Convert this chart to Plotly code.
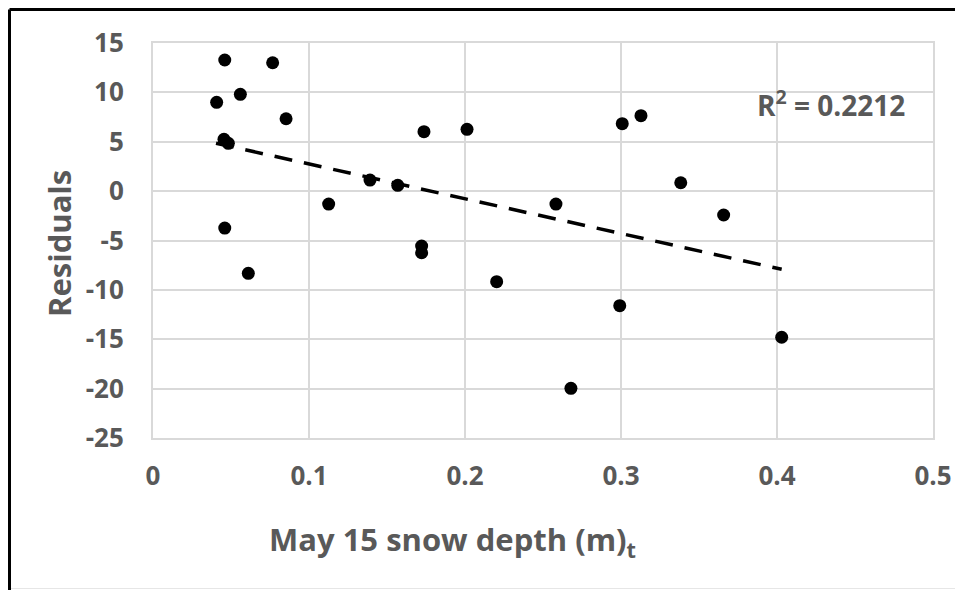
import plotly.graph_objects as go

# Data
snow_depth = [0.0408, 0.0460, 0.0767, 0.0560, 0.0853, 0.0455, 0.0483, 0.0460, 0.0611,
              0.1126, 0.1391, 0.1569, 0.1737, 0.1722, 0.1722, 0.2013, 0.2203, 0.2583,
              0.2679, 0.2992, 0.3008, 0.3128, 0.3383, 0.3658, 0.4030]
residuals = [8.99, 13.28, 13.0, 9.80, 7.33, 5.25, 4.84, -3.74, -8.32,
             -1.31, 1.12, 0.59, 6.02, -5.56, -6.24, 6.26, -9.17, -1.31,
             -19.97, -11.6, 6.83, 7.64, 0.85, -2.42, -14.8]

trend_x = [0.0404, 0.403]
trend_y = [4.85, -7.92]

r2_label = "R<sup>2</sup> = 0.2212"
x_title = "May 15 snow depth (m)<sub>t</sub>"
y_title = "Residuals"

x_ticks = [0, 0.1, 0.2, 0.3, 0.4, 0.5]
x_ticklabels = ["0", "0.1", "0.2", "0.3", "0.4", "0.5"]
y_ticks = [15, 10, 5, 0, -5, -10, -15, -20, -25]
y_ticklabels = ["15", "10", "5", "0", "-5", "-10", "-15", "-20", "-25"]

FONT = "Open Sans"
TXT = "#595959"
GRID = "#d9d9d9"

# page is shown with an 8px body margin; figure sized so it fits the 963x590 window
W, H = 955, 582
OFF = 8


def px(xp):  # page x -> paper x
    return (xp - 153) / 780


def py(yp):  # page y -> paper y
    return (438 - yp) / 395


fig = go.Figure()
fig.add_trace(go.Scatter(
    x=trend_x, y=trend_y, mode="lines",
    line=dict(color="black", width=3.5, dash="18px,12px"),
    hoverinfo="skip", showlegend=False))
fig.add_trace(go.Scatter(
    x=snow_depth, y=residuals, mode="markers",
    marker=dict(color="black", size=13, line=dict(width=0)),
    showlegend=False))

fig.update_layout(
    width=W, height=H,
    margin=dict(l=153 - OFF, r=W - (933 - OFF), t=43 - OFF, b=H - (438 - OFF)),
    paper_bgcolor="white", plot_bgcolor="white",
    font=dict(family=FONT, color=TXT),
    xaxis=dict(range=[0, 0.5], tickvals=x_ticks, ticktext=x_ticklabels,
               showgrid=True, gridcolor=GRID, gridwidth=2,
               showline=True, linecolor=GRID, linewidth=2, mirror=True,
               zeroline=False, ticks="", ticklabelstandoff=14,
               tickfont=dict(family=FONT, size=26, color=TXT, weight="bold")),
    yaxis=dict(range=[-25, 15], tickvals=y_ticks, ticktext=y_ticklabels,
               showgrid=True, gridcolor=GRID, gridwidth=2,
               showline=True, linecolor=GRID, linewidth=2, mirror=True,
               zeroline=False, ticks="", ticklabelstandoff=22,
               tickfont=dict(family=FONT, size=26, color=TXT, weight="bold")),
    annotations=[
        dict(text=r2_label, x=0.386, y=8.9, xref="x", yref="y",
             xanchor="left", yanchor="middle", showarrow=False,
             font=dict(family=FONT, size=28, color=TXT, weight="bold")),
        dict(text=x_title, x=px(452), y=py(541),
             xref="paper", yref="paper", xanchor="center", yanchor="middle",
             showarrow=False,
             font=dict(family=FONT, size=31, color=TXT, weight="bold")),
        dict(text=y_title, x=px(59), y=py(244),
             xref="paper", yref="paper", xanchor="center", yanchor="middle",
             textangle=-90, showarrow=False,
             font=dict(family=FONT, size=31, color=TXT, weight="bold")),
    ],
    shapes=[
        dict(type="line", xref="paper", yref="paper",
             x0=px(9.5), x1=px(975), y0=py(9.5), y1=py(9.5),
             line=dict(color="black", width=3)),
        dict(type="line", xref="paper", yref="paper",
             x0=px(9.5), x1=px(9.5), y0=py(9.5), y1=py(600),
             line=dict(color="black", width=3)),
        dict(type="line", xref="paper", yref="paper",
             x0=px(11), x1=px(975), y0=py(588.5), y1=py(588.5),
             line=dict(color="#e6e6e6", width=1)),
    ],
)

fig.write_html("out.html")
